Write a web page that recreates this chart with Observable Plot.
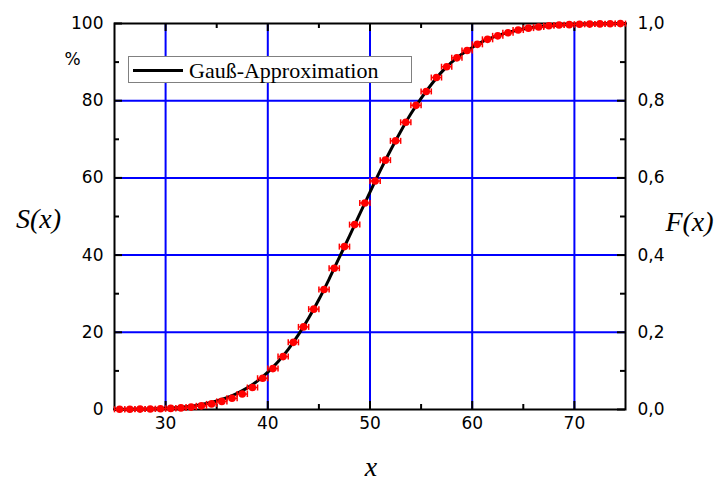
<!DOCTYPE html>
<html>
<head>
<meta charset="utf-8">
<script src="https://cdn.jsdelivr.net/npm/d3@7"></script>
<script src="https://cdn.jsdelivr.net/npm/@observablehq/plot@0.6"></script>
<style>
  html, body { margin: 0; padding: 0; background: #fff; }
  #chart { position: relative; width: 718px; height: 489px; }
</style>
</head>
<body>
<div id="chart"></div>
<script>
// ---- data ----
const dotX = [25.5,26.5,27.5,28.5,29.5,30.5,31.5,32.5,33.5,34.5,35.5,36.5,37.5,38.5,39.5,40.5,41.5,42.5,43.5,44.5,45.5,46.5,47.5,48.5,49.5,50.5,51.5,52.5,53.5,54.5,55.5,56.5,57.5,58.5,59.5,60.5,61.5,62.5,63.5,64.5,65.5,66.5,67.5,68.5,69.5,70.5,71.5,72.5,73.5,74.5];
const dotS = [0.05,0.07,0.1,0.14,0.2,0.28,0.42,0.62,0.95,1.45,2.1,2.9,4.0,5.7,8.1,10.6,13.7,17.4,21.4,26.0,31.1,36.6,42.2,47.9,53.5,59.2,64.6,69.6,74.4,78.8,82.4,86.0,88.8,91.1,93.0,94.6,95.9,96.8,97.6,98.3,98.8,99.1,99.4,99.6,99.7,99.8,99.85,99.9,99.95,99.97];
const errHalf = 0.5; // horizontal error bar half-width (x units)

const curveX = [25,27,29,30,31,32,33,34,35,36,37,38,39,40,41,42,43,44,45,46,47,48,49,50,51,52,53,54,55,56,57,58,59,60,61,62,63,64,65,66,67,68,69,70,72,75];
const curveS = [0.05,0.1,0.2,0.3,0.45,0.7,1.05,1.55,2.2,3.05,4.2,5.6,7.4,9.7,12.4,15.6,19.4,23.7,28.5,33.8,39.4,45.0,50.7,56.3,61.9,67.1,72.0,76.6,80.6,84.2,87.4,90.0,92.1,93.8,95.3,96.4,97.3,98.0,98.55,99.0,99.3,99.5,99.65,99.78,99.9,99.98];

const xMajor = [30,40,50,60,70];
const xMinor = [35,45,55,65];
const yMajor = [0,20,40,60,80,100];
const yMinor = [10,30,50,70,90];
const yGrid = [20,40,60,80];
const legendLabel = "Gauß-Approximation";

// ---- build ----
const dots = dotX.map((x, i) => ({x, s: dotS[i]}));
const curve = curveX.map((x, i) => ({x, s: curveS[i]}));

const W = 718, H = 489;
const mL = 114, mR = 93, mT = 23, mB = 80;
const xDom = [25, 75], yDom = [0, 100];
const pxX = (W - mL - mR) / (xDom[1] - xDom[0]);  // px per x unit
const pxY = (H - mT - mB) / (yDom[1] - yDom[0]);  // px per y unit
const majLen = 8, minLen = 5, capH = 3;

const tickFont = "DejaVu Sans, Verdana, sans-serif";
const serif = "Liberation Serif, Times New Roman, serif";

const plot = Plot.plot({
  width: W, height: H,
  marginLeft: mL, marginRight: mR, marginTop: mT, marginBottom: mB,
  x: {domain: xDom},
  y: {domain: yDom},
  style: {background: "#fff", overflow: "visible"},
  marks: [
    // grid
    Plot.ruleX(xMajor, {stroke: "#0000ff", strokeWidth: 2}),
    Plot.ruleY(yGrid, {stroke: "#0000ff", strokeWidth: 2}),
    // inward ticks: bottom & top
    Plot.ruleX(xMajor, {y1: 0, y2: majLen / pxY, stroke: "#000", strokeWidth: 2}),
    Plot.ruleX(xMinor, {y1: 0, y2: minLen / pxY, stroke: "#000", strokeWidth: 2}),
    Plot.ruleX(xMajor, {y1: 100, y2: 100 - majLen / pxY, stroke: "#000", strokeWidth: 2}),
    Plot.ruleX(xMinor, {y1: 100, y2: 100 - minLen / pxY, stroke: "#000", strokeWidth: 2}),
    // inward ticks: left & right
    Plot.ruleY(yMajor, {x1: 25, x2: 25 + majLen / pxX, stroke: "#000", strokeWidth: 2}),
    Plot.ruleY(yMinor, {x1: 25, x2: 25 + minLen / pxX, stroke: "#000", strokeWidth: 2}),
    Plot.ruleY(yMajor, {x1: 75, x2: 75 - majLen / pxX, stroke: "#000", strokeWidth: 2}),
    Plot.ruleY(yMinor, {x1: 75, x2: 75 - minLen / pxX, stroke: "#000", strokeWidth: 2}),
    // frame
    Plot.frame({stroke: "#000", strokeWidth: 2}),
    // Gaussian curve
    Plot.line(curve, {x: "x", y: "s", stroke: "#000", strokeWidth: 3, curve: "monotone-x"}),
    // error bars
    Plot.link(dots, {x1: d => d.x - errHalf, x2: d => d.x + errHalf, y1: "s", y2: "s", stroke: "#ff0000", strokeWidth: 1.5}),
    Plot.link(dots, {x1: d => d.x - errHalf, x2: d => d.x - errHalf, y1: d => d.s - capH / pxY, y2: d => d.s + capH / pxY, stroke: "#ff0000", strokeWidth: 1.5}),
    Plot.link(dots, {x1: d => d.x + errHalf, x2: d => d.x + errHalf, y1: d => d.s - capH / pxY, y2: d => d.s + capH / pxY, stroke: "#ff0000", strokeWidth: 1.5}),
    // points
    Plot.dot(dots, {x: "x", y: "s", r: 3.8, fill: "#ff0000", stroke: "none"}),
    // axes labels
    Plot.axisX({ticks: xMajor, tickSize: 0, tickPadding: 7, fontSize: 17, fontFamily: tickFont, fill: "#000", label: null}),
    Plot.axisY({anchor: "left", ticks: yMajor, tickSize: 0, tickPadding: 11, fontSize: 17, fontFamily: tickFont, fill: "#000", label: null}),
    Plot.axisY({anchor: "right", ticks: yMajor, tickSize: 0, tickPadding: 12, fontSize: 17, fontFamily: tickFont, fill: "#000", label: null,
      tickFormat: d => (d / 100).toFixed(1).replace(".", ",")}),
    // axis titles
    Plot.text(["S(x)"], {frameAnchor: "left", dx: -76, dy: 3, fontSize: 28, fontFamily: serif, fontStyle: "italic", fill: "#000", textAnchor: "middle"}),
    Plot.text(["F(x)"], {frameAnchor: "right", dx: 64, dy: 6, fontSize: 28, fontFamily: serif, fontStyle: "italic", fill: "#000", textAnchor: "middle"}),
    Plot.text(["x"], {frameAnchor: "bottom", dx: 1, dy: 66, fontSize: 28, fontFamily: serif, fontStyle: "italic", fill: "#000"}),
    Plot.text(["%"], {frameAnchor: "top-left", dx: -42, dy: 29, fontSize: 17, fontFamily: tickFont, fill: "#000", textAnchor: "middle"})
  ]
});

document.getElementById("chart").appendChild(plot);

// legend box inside the plot area
const svg = d3.select(plot);
const g = svg.append("g").attr("class", "legend");
g.append("rect").attr("x", 128.5).attr("y", 56.5).attr("width", 283).attr("height", 26)
  .style("fill", "#fff").style("stroke", "#808080").style("stroke-width", "1px");
g.append("line").attr("x1", 133).attr("x2", 183).attr("y1", 70.5).attr("y2", 70.5)
  .style("stroke", "#000").style("stroke-width", "3px");
g.append("text").attr("x", 189).attr("y", 77.5).text(legendLabel)
  .style("font-family", serif).style("font-size", "22px").style("fill", "#000")
  .style("text-anchor", "start");
</script>
</body>
</html>
